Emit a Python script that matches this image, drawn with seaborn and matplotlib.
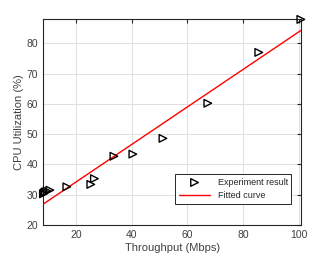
import numpy as np
import pandas as pd
import matplotlib
matplotlib.use("Agg")
import matplotlib.pyplot as plt
import seaborn as sns

throughput = [8.3, 8.6, 9.0, 9.6, 10.6, 16.7, 25.3, 26.6, 33.6, 40.4, 51.2, 67.3, 85.6, 100.7]
cpu_util = [30.3, 30.6, 30.9, 31.2, 31.5, 32.6, 33.4, 35.3, 42.7, 43.4, 48.6, 60.2, 77.0, 87.9]

# fitted line coefficients (slope, intercept)
fit_slope = 0.62
fit_intercept = 21.8

sns.set_style("white")
plt.rcParams['font.family'] = ['Liberation Sans', 'DejaVu Sans']

df = pd.DataFrame({"x": throughput, "y": cpu_util})
xfit = np.array([8.2, 100.8])
fit_df = pd.DataFrame({"x": xfit, "y": fit_slope * xfit + fit_intercept})

fig = plt.figure(figsize=(3.32, 2.58), dpi=100)
ax = fig.add_axes([0.13, 0.128, 0.777, 0.798])

sns.scatterplot(data=df, x="x", y="y", marker=">", s=30, facecolor="none",
                edgecolor="black", linewidth=1.0, ax=ax, label="Experiment result",
                zorder=3, clip_on=False)
sns.lineplot(data=fit_df, x="x", y="y", color="red", linewidth=1.0, ax=ax,
             label="Fitted curve", zorder=2)

ax.set_xlim(8.2, 100.8)
ax.set_ylim(20, 88)
ax.set_xticks([20, 40, 60, 80, 100])
ax.set_yticks([20, 30, 40, 50, 60, 70, 80])
ax.grid(True, color="#e0e0e0", linewidth=0.7)
ax.set_axisbelow(True)
for sp in ax.spines.values():
    sp.set_color("#262626")
    sp.set_linewidth(0.8)
    sp.set_visible(True)
ax.tick_params(direction="in", length=3, width=0.8, colors="#262626",
               labelsize=7.5, labelcolor="#404040", top=True, right=True,
               labeltop=False, labelright=False)
ax.set_xlabel("Throughput (Mbps)", fontsize=8, color="#404040", labelpad=2)
ax.set_ylabel("CPU Utilization (%)", fontsize=8, color="#404040", labelpad=2)

leg = ax.legend(loc="lower right", fontsize=6.5, frameon=True, fancybox=False,
                edgecolor="#262626", framealpha=1, borderpad=0.4,
                handlelength=3.5, bbox_to_anchor=(0.98, 0.08))
leg.get_frame().set_linewidth(0.7)

fig.savefig("out.png", dpi=100)
